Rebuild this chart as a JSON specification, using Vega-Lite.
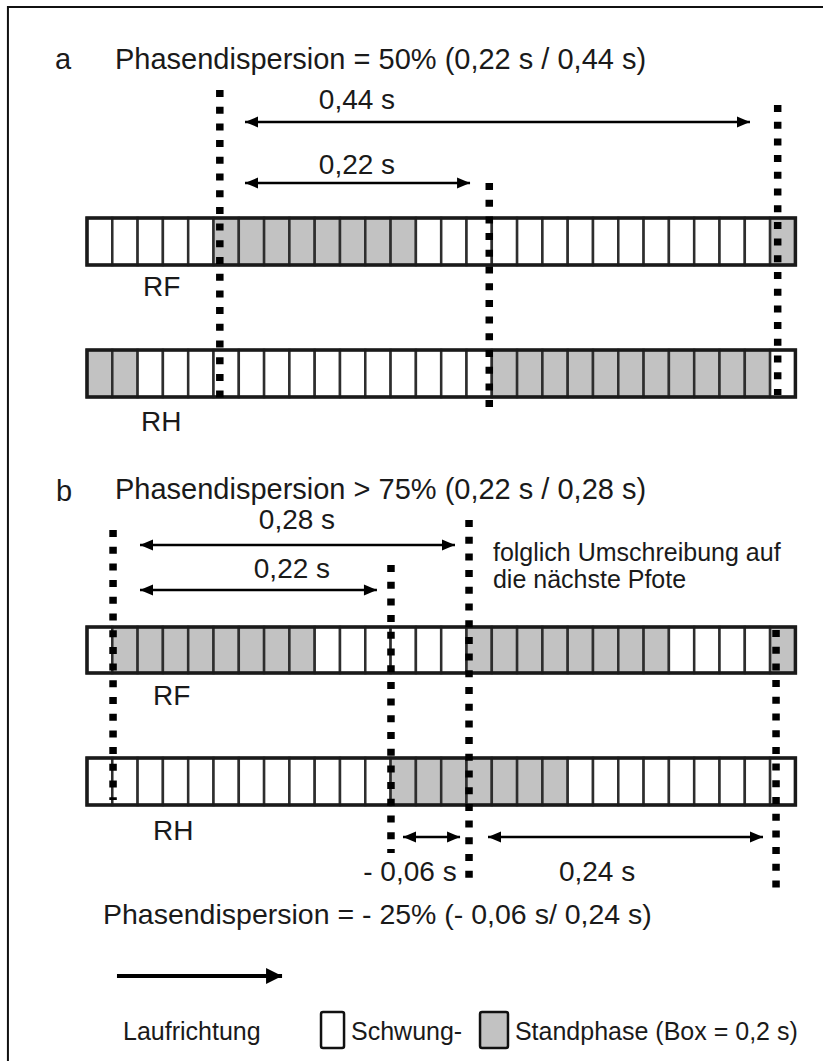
{
"$schema": "https://vega.github.io/schema/vega-lite/v6.json",
"width": 823, "height": 1061,
"autosize": {"type": "fit", "contains": "padding"},
"padding": 0,
"background": "white",
"config": {"view": {"stroke": null}, "text": {"font": "Liberation Sans", "color": "#1a1a1a", "baseline": "middle"}},
"datasets": {
"lanes": [
{"tr":"aRF","top":218,"bot":265,"start":0,"end":0.56},
{"tr":"aRH","top":350,"bot":397,"start":0,"end":0.56},
{"tr":"bRF","top":627,"bot":673,"start":0,"end":0.56},
{"tr":"bRH","top":758,"bot":805,"start":0,"end":0.56}
],
"boxes": [
{"tr":"aRF","t0":0,"t1":0.02,"ph":"Schwung"},
{"tr":"aRF","t0":0.02,"t1":0.04,"ph":"Schwung"},
{"tr":"aRF","t0":0.04,"t1":0.06,"ph":"Schwung"},
{"tr":"aRF","t0":0.06,"t1":0.08,"ph":"Schwung"},
{"tr":"aRF","t0":0.08,"t1":0.1,"ph":"Schwung"},
{"tr":"aRF","t0":0.1,"t1":0.12,"ph":"Stand"},
{"tr":"aRF","t0":0.12,"t1":0.14,"ph":"Stand"},
{"tr":"aRF","t0":0.14,"t1":0.16,"ph":"Stand"},
{"tr":"aRF","t0":0.16,"t1":0.18,"ph":"Stand"},
{"tr":"aRF","t0":0.18,"t1":0.2,"ph":"Stand"},
{"tr":"aRF","t0":0.2,"t1":0.22,"ph":"Stand"},
{"tr":"aRF","t0":0.22,"t1":0.24,"ph":"Stand"},
{"tr":"aRF","t0":0.24,"t1":0.26,"ph":"Stand"},
{"tr":"aRF","t0":0.26,"t1":0.28,"ph":"Schwung"},
{"tr":"aRF","t0":0.28,"t1":0.3,"ph":"Schwung"},
{"tr":"aRF","t0":0.3,"t1":0.32,"ph":"Schwung"},
{"tr":"aRF","t0":0.32,"t1":0.34,"ph":"Schwung"},
{"tr":"aRF","t0":0.34,"t1":0.36,"ph":"Schwung"},
{"tr":"aRF","t0":0.36,"t1":0.38,"ph":"Schwung"},
{"tr":"aRF","t0":0.38,"t1":0.4,"ph":"Schwung"},
{"tr":"aRF","t0":0.4,"t1":0.42,"ph":"Schwung"},
{"tr":"aRF","t0":0.42,"t1":0.44,"ph":"Schwung"},
{"tr":"aRF","t0":0.44,"t1":0.46,"ph":"Schwung"},
{"tr":"aRF","t0":0.46,"t1":0.48,"ph":"Schwung"},
{"tr":"aRF","t0":0.48,"t1":0.5,"ph":"Schwung"},
{"tr":"aRF","t0":0.5,"t1":0.52,"ph":"Schwung"},
{"tr":"aRF","t0":0.52,"t1":0.54,"ph":"Schwung"},
{"tr":"aRF","t0":0.54,"t1":0.56,"ph":"Stand"},
{"tr":"aRH","t0":0,"t1":0.02,"ph":"Stand"},
{"tr":"aRH","t0":0.02,"t1":0.04,"ph":"Stand"},
{"tr":"aRH","t0":0.04,"t1":0.06,"ph":"Schwung"},
{"tr":"aRH","t0":0.06,"t1":0.08,"ph":"Schwung"},
{"tr":"aRH","t0":0.08,"t1":0.1,"ph":"Schwung"},
{"tr":"aRH","t0":0.1,"t1":0.12,"ph":"Schwung"},
{"tr":"aRH","t0":0.12,"t1":0.14,"ph":"Schwung"},
{"tr":"aRH","t0":0.14,"t1":0.16,"ph":"Schwung"},
{"tr":"aRH","t0":0.16,"t1":0.18,"ph":"Schwung"},
{"tr":"aRH","t0":0.18,"t1":0.2,"ph":"Schwung"},
{"tr":"aRH","t0":0.2,"t1":0.22,"ph":"Schwung"},
{"tr":"aRH","t0":0.22,"t1":0.24,"ph":"Schwung"},
{"tr":"aRH","t0":0.24,"t1":0.26,"ph":"Schwung"},
{"tr":"aRH","t0":0.26,"t1":0.28,"ph":"Schwung"},
{"tr":"aRH","t0":0.28,"t1":0.3,"ph":"Schwung"},
{"tr":"aRH","t0":0.3,"t1":0.32,"ph":"Schwung"},
{"tr":"aRH","t0":0.32,"t1":0.34,"ph":"Stand"},
{"tr":"aRH","t0":0.34,"t1":0.36,"ph":"Stand"},
{"tr":"aRH","t0":0.36,"t1":0.38,"ph":"Stand"},
{"tr":"aRH","t0":0.38,"t1":0.4,"ph":"Stand"},
{"tr":"aRH","t0":0.4,"t1":0.42,"ph":"Stand"},
{"tr":"aRH","t0":0.42,"t1":0.44,"ph":"Stand"},
{"tr":"aRH","t0":0.44,"t1":0.46,"ph":"Stand"},
{"tr":"aRH","t0":0.46,"t1":0.48,"ph":"Stand"},
{"tr":"aRH","t0":0.48,"t1":0.5,"ph":"Stand"},
{"tr":"aRH","t0":0.5,"t1":0.52,"ph":"Stand"},
{"tr":"aRH","t0":0.52,"t1":0.54,"ph":"Stand"},
{"tr":"aRH","t0":0.54,"t1":0.56,"ph":"Schwung"},
{"tr":"bRF","t0":0,"t1":0.02,"ph":"Schwung"},
{"tr":"bRF","t0":0.02,"t1":0.04,"ph":"Stand"},
{"tr":"bRF","t0":0.04,"t1":0.06,"ph":"Stand"},
{"tr":"bRF","t0":0.06,"t1":0.08,"ph":"Stand"},
{"tr":"bRF","t0":0.08,"t1":0.1,"ph":"Stand"},
{"tr":"bRF","t0":0.1,"t1":0.12,"ph":"Stand"},
{"tr":"bRF","t0":0.12,"t1":0.14,"ph":"Stand"},
{"tr":"bRF","t0":0.14,"t1":0.16,"ph":"Stand"},
{"tr":"bRF","t0":0.16,"t1":0.18,"ph":"Stand"},
{"tr":"bRF","t0":0.18,"t1":0.2,"ph":"Schwung"},
{"tr":"bRF","t0":0.2,"t1":0.22,"ph":"Schwung"},
{"tr":"bRF","t0":0.22,"t1":0.24,"ph":"Schwung"},
{"tr":"bRF","t0":0.24,"t1":0.26,"ph":"Schwung"},
{"tr":"bRF","t0":0.26,"t1":0.28,"ph":"Schwung"},
{"tr":"bRF","t0":0.28,"t1":0.3,"ph":"Schwung"},
{"tr":"bRF","t0":0.3,"t1":0.32,"ph":"Stand"},
{"tr":"bRF","t0":0.32,"t1":0.34,"ph":"Stand"},
{"tr":"bRF","t0":0.34,"t1":0.36,"ph":"Stand"},
{"tr":"bRF","t0":0.36,"t1":0.38,"ph":"Stand"},
{"tr":"bRF","t0":0.38,"t1":0.4,"ph":"Stand"},
{"tr":"bRF","t0":0.4,"t1":0.42,"ph":"Stand"},
{"tr":"bRF","t0":0.42,"t1":0.44,"ph":"Stand"},
{"tr":"bRF","t0":0.44,"t1":0.46,"ph":"Stand"},
{"tr":"bRF","t0":0.46,"t1":0.48,"ph":"Schwung"},
{"tr":"bRF","t0":0.48,"t1":0.5,"ph":"Schwung"},
{"tr":"bRF","t0":0.5,"t1":0.52,"ph":"Schwung"},
{"tr":"bRF","t0":0.52,"t1":0.54,"ph":"Schwung"},
{"tr":"bRF","t0":0.54,"t1":0.56,"ph":"Stand"},
{"tr":"bRH","t0":0,"t1":0.02,"ph":"Schwung"},
{"tr":"bRH","t0":0.02,"t1":0.04,"ph":"Schwung"},
{"tr":"bRH","t0":0.04,"t1":0.06,"ph":"Schwung"},
{"tr":"bRH","t0":0.06,"t1":0.08,"ph":"Schwung"},
{"tr":"bRH","t0":0.08,"t1":0.1,"ph":"Schwung"},
{"tr":"bRH","t0":0.1,"t1":0.12,"ph":"Schwung"},
{"tr":"bRH","t0":0.12,"t1":0.14,"ph":"Schwung"},
{"tr":"bRH","t0":0.14,"t1":0.16,"ph":"Schwung"},
{"tr":"bRH","t0":0.16,"t1":0.18,"ph":"Schwung"},
{"tr":"bRH","t0":0.18,"t1":0.2,"ph":"Schwung"},
{"tr":"bRH","t0":0.2,"t1":0.22,"ph":"Schwung"},
{"tr":"bRH","t0":0.22,"t1":0.24,"ph":"Schwung"},
{"tr":"bRH","t0":0.24,"t1":0.26,"ph":"Stand"},
{"tr":"bRH","t0":0.26,"t1":0.28,"ph":"Stand"},
{"tr":"bRH","t0":0.28,"t1":0.3,"ph":"Stand"},
{"tr":"bRH","t0":0.3,"t1":0.32,"ph":"Stand"},
{"tr":"bRH","t0":0.32,"t1":0.34,"ph":"Stand"},
{"tr":"bRH","t0":0.34,"t1":0.36,"ph":"Stand"},
{"tr":"bRH","t0":0.36,"t1":0.38,"ph":"Stand"},
{"tr":"bRH","t0":0.38,"t1":0.4,"ph":"Schwung"},
{"tr":"bRH","t0":0.4,"t1":0.42,"ph":"Schwung"},
{"tr":"bRH","t0":0.42,"t1":0.44,"ph":"Schwung"},
{"tr":"bRH","t0":0.44,"t1":0.46,"ph":"Schwung"},
{"tr":"bRH","t0":0.46,"t1":0.48,"ph":"Schwung"},
{"tr":"bRH","t0":0.48,"t1":0.5,"ph":"Schwung"},
{"tr":"bRH","t0":0.5,"t1":0.52,"ph":"Schwung"},
{"tr":"bRH","t0":0.52,"t1":0.54,"ph":"Schwung"},
{"tr":"bRH","t0":0.54,"t1":0.56,"ph":"Schwung"}
],
"dots": [
{"t":0.105,"y0":90,"y1":398},
{"t":0.318,"y0":183,"y1":408},
{"t":0.546,"y0":105,"y1":395},
{"t":0.0206,"y0":530,"y1":800},
{"t":0.2403,"y0":565,"y1":853},
{"t":0.302,"y0":520,"y1":887},
{"t":0.5447,"y0":630,"y1":897}
],
"arrows": [
{"t0":0.1249,"t1":0.5241,"y":122},
{"t0":0.1249,"t1":0.3028,"y":183},
{"t0":0.0419,"t1":0.2909,"y":545},
{"t0":0.0419,"t1":0.2292,"y":590},
{"t0":0.2498,"t1":0.2949,"y":837},
{"t0":0.3170,"t1":0.5344,"y":837}
],
"legendArrow": [{"t0":0.0237,"t1":0.1542,"y":976}],
"legendBoxes": [
{"ph":"Schwung","t0":0.185,"t1":0.2032,"y0":1012,"y1":1048},
{"ph":"Stand","t0":0.3107,"t1":0.3328,"y0":1012,"y1":1048}
],
"frame": [{"t0":-0.0625,"t1":0.7,"y0":7,"y1":1100}],
"labels": [
{"t":-0.0253,"y":60,"text":"a","kind":"head"},
{"t":0.0221,"y":60,"text":"Phasendispersion = 50% (0,22 s / 0,44 s)","kind":"head"},
{"t":0.2134,"y":101,"text":"0,44 s","kind":"center"},
{"t":0.2134,"y":166,"text":"0,22 s","kind":"center"},
{"t":0.0443,"y":288,"text":"RF","kind":"limb"},
{"t":0.0427,"y":423,"text":"RH","kind":"limb"},
{"t":-0.0245,"y":492,"text":"b","kind":"head"},
{"t":0.0221,"y":490,"text":"Phasendispersion > 75% (0,22 s / 0,28 s)","kind":"head"},
{"t":0.166,"y":521,"text":"0,28 s","kind":"center"},
{"t":0.162,"y":570,"text":"0,22 s","kind":"center"},
{"t":0.3209,"y":553,"text":"folglich Umschreibung auf","kind":"note"},
{"t":0.3209,"y":580,"text":"die nächste Pfote","kind":"note"},
{"t":0.0522,"y":697,"text":"RF","kind":"limb"},
{"t":0.0522,"y":832,"text":"RH","kind":"limb"},
{"t":0.2553,"y":873,"text":"- 0,06 s","kind":"center"},
{"t":0.4032,"y":873,"text":"0,24 s","kind":"center"},
{"t":0.0126,"y":915,"text":"Phasendispersion = - 25% (- 0,06 s/ 0,24 s)","kind":"big"},
{"t":0.0285,"y":1032,"text":"Laufrichtung","kind":"legend"},
{"t":0.2087,"y":1032,"text":"Schwung-","kind":"legend"},
{"t":0.3383,"y":1032,"text":"Standphase (Box = 0,2 s)","kind":"legend"}
]
},
"layer": [
{"data":{"name":"frame"},
 "mark":{"type":"rect","fill":"transparent","stroke":"#111111","strokeWidth":2,"clip":true},
 "encoding":{
  "x":{"field":"t0","type":"quantitative","scale":{"domain":[-0.06877,0.58182],"nice":false,"zero":false},"axis":null},
  "x2":{"field":"t1"},
  "y":{"field":"y0","type":"quantitative","scale":{"domain":[0,1061],"reverse":true,"nice":false,"zero":false},"axis":null},
  "y2":{"field":"y1"}}},
{"data":{"name":"boxes"},
 "transform":[{"lookup":"tr","from":{"data":{"name":"lanes"},"key":"tr","fields":["top","bot"]}}],
 "mark":{"type":"rect","stroke":"#2e2e2e","strokeWidth":2.5},
 "encoding":{
  "x":{"field":"t0","type":"quantitative","scale":{"domain":[-0.06877,0.58182],"nice":false,"zero":false},"axis":null},
  "x2":{"field":"t1"},
  "y":{"field":"top","type":"quantitative","scale":{"domain":[0,1061],"reverse":true,"nice":false,"zero":false},"axis":null},
  "y2":{"field":"bot"},
  "fill":{"field":"ph","type":"nominal","scale":{"domain":["Schwung","Stand"],"range":["#ffffff","#c2c2c2"]},"legend":null}}},
{"data":{"name":"lanes"},
 "mark":{"type":"rect","fill":"transparent","stroke":"#1a1a1a","strokeWidth":3.5},
 "encoding":{
  "x":{"field":"start","type":"quantitative","scale":{"domain":[-0.06877,0.58182],"nice":false,"zero":false},"axis":null},
  "x2":{"field":"end"},
  "y":{"field":"top","type":"quantitative","scale":{"domain":[0,1061],"reverse":true,"nice":false,"zero":false},"axis":null},
  "y2":{"field":"bot"}}},
{"data":{"name":"dots"},
 "mark":{"type":"rule","color":"#000000","strokeWidth":7.5,"strokeDash":[7,9.7],"strokeCap":"butt"},
 "encoding":{
  "x":{"field":"t","type":"quantitative","scale":{"domain":[-0.06877,0.58182],"nice":false,"zero":false},"axis":null},
  "y":{"field":"y0","type":"quantitative","scale":{"domain":[0,1061],"reverse":true,"nice":false,"zero":false},"axis":null},
  "y2":{"field":"y1"}}},
{"data":{"name":"arrows"},
 "mark":{"type":"rule","color":"#000000","strokeWidth":2.5},
 "encoding":{
  "x":{"field":"t0","type":"quantitative","scale":{"domain":[-0.06877,0.58182],"nice":false,"zero":false},"axis":null},
  "x2":{"field":"t1"},
  "y":{"field":"y","type":"quantitative","scale":{"domain":[0,1061],"reverse":true,"nice":false,"zero":false},"axis":null}}},
{"data":{"name":"arrows"},
 "transform":[{"fold":["t0","t1"],"as":["end","te"]}],
 "mark":{"type":"point","filled":true,"color":"#000000","opacity":1,"size":676},
 "encoding":{
  "x":{"field":"te","type":"quantitative","scale":{"domain":[-0.06877,0.58182],"nice":false,"zero":false},"axis":null},
  "y":{"field":"y","type":"quantitative","scale":{"domain":[0,1061],"reverse":true,"nice":false,"zero":false},"axis":null},
  "shape":{"field":"end","type":"nominal","scale":{"domain":["t0","t1"],"range":["M0,0L1,-0.42L1,0.42Z","M0,0L-1,-0.42L-1,0.42Z"]},"legend":null}}},
{"data":{"name":"legendArrow"},
 "mark":{"type":"rule","color":"#000000","strokeWidth":4},
 "encoding":{
  "x":{"field":"t0","type":"quantitative","scale":{"domain":[-0.06877,0.58182],"nice":false,"zero":false},"axis":null},
  "x2":{"field":"t1"},
  "y":{"field":"y","type":"quantitative","scale":{"domain":[0,1061],"reverse":true,"nice":false,"zero":false},"axis":null}}},
{"data":{"name":"legendArrow"},
 "mark":{"type":"point","filled":true,"color":"#000000","opacity":1,"size":1024,"shape":"M0,0L-1,-0.5L-1,0.5Z"},
 "encoding":{
  "x":{"field":"t1","type":"quantitative","scale":{"domain":[-0.06877,0.58182],"nice":false,"zero":false},"axis":null},
  "y":{"field":"y","type":"quantitative","scale":{"domain":[0,1061],"reverse":true,"nice":false,"zero":false},"axis":null}}},
{"data":{"name":"legendBoxes"},
 "mark":{"type":"rect","stroke":"#111111","strokeWidth":2.5,"cornerRadius":2},
 "encoding":{
  "x":{"field":"t0","type":"quantitative","scale":{"domain":[-0.06877,0.58182],"nice":false,"zero":false},"axis":null},
  "x2":{"field":"t1"},
  "y":{"field":"y0","type":"quantitative","scale":{"domain":[0,1061],"reverse":true,"nice":false,"zero":false},"axis":null},
  "y2":{"field":"y1"},
  "fill":{"field":"ph","type":"nominal","scale":{"domain":["Schwung","Stand"],"range":["#ffffff","#c2c2c2"]},"legend":null}}},
{"data":{"name":"labels"},
 "transform":[{"filter":"datum.kind === 'head'"}],
 "mark":{"type":"text","align":"left","fontSize":29},
 "encoding":{
  "x":{"field":"t","type":"quantitative","scale":{"domain":[-0.06877,0.58182],"nice":false,"zero":false},"axis":null},
  "y":{"field":"y","type":"quantitative","scale":{"domain":[0,1061],"reverse":true,"nice":false,"zero":false},"axis":null},
  "text":{"field":"text","type":"nominal"}}},
{"data":{"name":"labels"},
 "transform":[{"filter":"datum.kind === 'limb'"}],
 "mark":{"type":"text","align":"left","fontSize":28},
 "encoding":{
  "x":{"field":"t","type":"quantitative","scale":{"domain":[-0.06877,0.58182],"nice":false,"zero":false},"axis":null},
  "y":{"field":"y","type":"quantitative","scale":{"domain":[0,1061],"reverse":true,"nice":false,"zero":false},"axis":null},
  "text":{"field":"text","type":"nominal"}}},
{"data":{"name":"labels"},
 "transform":[{"filter":"datum.kind === 'note' || datum.kind === 'legend'"}],
 "mark":{"type":"text","align":"left","fontSize":25},
 "encoding":{
  "x":{"field":"t","type":"quantitative","scale":{"domain":[-0.06877,0.58182],"nice":false,"zero":false},"axis":null},
  "y":{"field":"y","type":"quantitative","scale":{"domain":[0,1061],"reverse":true,"nice":false,"zero":false},"axis":null},
  "text":{"field":"text","type":"nominal"}}},
{"data":{"name":"labels"},
 "transform":[{"filter":"datum.kind === 'big'"}],
 "mark":{"type":"text","align":"left","fontSize":28.5},
 "encoding":{
  "x":{"field":"t","type":"quantitative","scale":{"domain":[-0.06877,0.58182],"nice":false,"zero":false},"axis":null},
  "y":{"field":"y","type":"quantitative","scale":{"domain":[0,1061],"reverse":true,"nice":false,"zero":false},"axis":null},
  "text":{"field":"text","type":"nominal"}}},
{"data":{"name":"labels"},
 "transform":[{"filter":"datum.kind === 'center'"}],
 "mark":{"type":"text","align":"center","fontSize":28},
 "encoding":{
  "x":{"field":"t","type":"quantitative","scale":{"domain":[-0.06877,0.58182],"nice":false,"zero":false},"axis":null},
  "y":{"field":"y","type":"quantitative","scale":{"domain":[0,1061],"reverse":true,"nice":false,"zero":false},"axis":null},
  "text":{"field":"text","type":"nominal"}}}
]
}
